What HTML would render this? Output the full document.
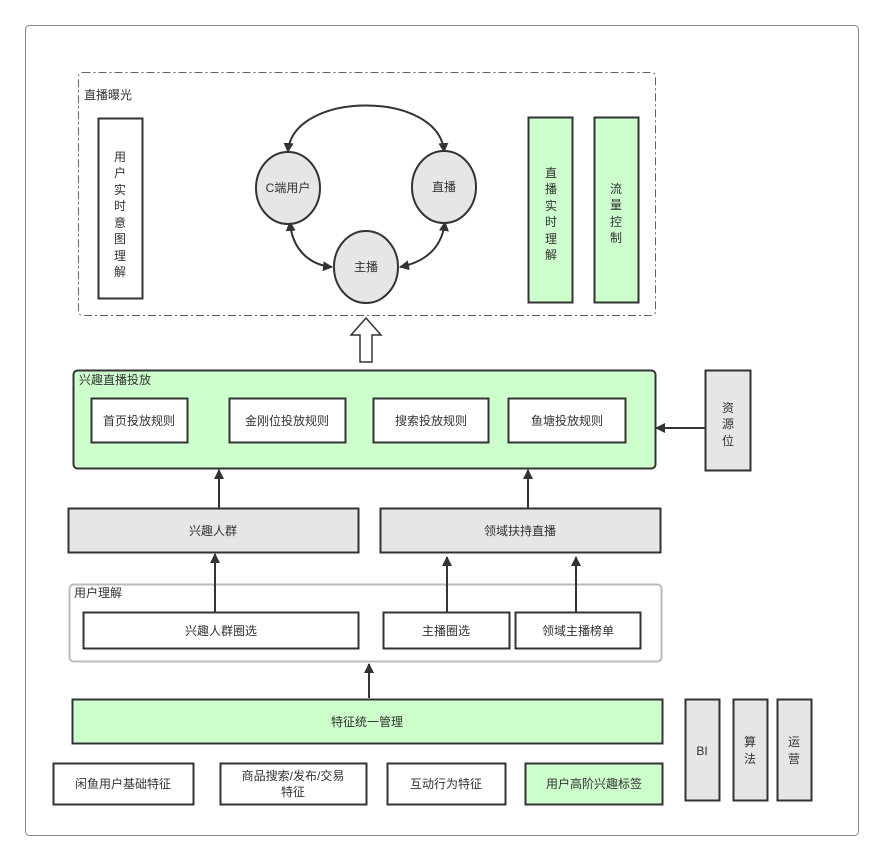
<!DOCTYPE html>
<html><head><meta charset="utf-8"><style>
body{margin:0;background:#fff}
svg text{font-family:"Liberation Sans","Noto Sans CJK SC",sans-serif;font-size:12px;fill:#333}
</style></head><body>
<svg width="883" height="862" viewBox="0 0 883 862" xmlns="http://www.w3.org/2000/svg">
<defs><marker id="a" markerWidth="10" markerHeight="10" refX="9" refY="5" orient="auto-start-reverse" markerUnits="userSpaceOnUse"><path d="M0,0 L10,5 L0,10 z" fill="#333"/></marker></defs>
<rect x="25.5" y="25.5" width="833" height="810" rx="4" fill="#fff" stroke="#888"/>
<rect x="78.5" y="72.5" width="577" height="243" rx="4" fill="none" stroke="#666" stroke-dasharray="8,3,2,3"/>
<text x="84" y="99">直播曝光</text>
<rect x="98.5" y="118.5" width="44" height="180" fill="#fff" stroke="#333" stroke-width="2"/>
<g text-anchor="middle"><text x="120" y="161">用</text><text x="120" y="177">户</text><text x="120" y="194">实</text><text x="120" y="210">时</text><text x="120" y="227">意</text><text x="120" y="243">图</text><text x="120" y="260">理</text><text x="120" y="276">解</text></g>
<rect x="528.5" y="117.5" width="44" height="185" fill="#ccffcc" stroke="#333" stroke-width="2"/>
<g text-anchor="middle"><text x="551" y="177">直</text><text x="551" y="193">播</text><text x="551" y="210">实</text><text x="551" y="226">时</text><text x="551" y="243">理</text><text x="551" y="259">解</text></g>
<rect x="594.5" y="117.5" width="44" height="185" fill="#ccffcc" stroke="#333" stroke-width="2"/>
<g text-anchor="middle"><text x="616" y="193">流</text><text x="616" y="209">量</text><text x="616" y="226">控</text><text x="616" y="242">制</text></g>
<path d="M288,152 C292,90 440,90 444,152" fill="none" stroke="#333" stroke-width="2" marker-start="url(#a)" marker-end="url(#a)"/>
<path d="M290,222 C292,250 310,265 332,267" fill="none" stroke="#333" stroke-width="2" marker-start="url(#a)" marker-end="url(#a)"/>
<path d="M400,267 C425,262 442,248 445,222" fill="none" stroke="#333" stroke-width="2" marker-start="url(#a)" marker-end="url(#a)"/>
<ellipse cx="288" cy="188" rx="32" ry="36" fill="#e6e6e6" stroke="#333" stroke-width="2"/>
<ellipse cx="444" cy="187" rx="32" ry="36" fill="#e6e6e6" stroke="#333" stroke-width="2"/>
<ellipse cx="366" cy="267" rx="32" ry="36" fill="#e6e6e6" stroke="#333" stroke-width="2"/>
<g text-anchor="middle"><text x="288" y="192">C端用户</text><text x="444" y="191">直播</text><text x="366" y="271">主播</text></g>
<path d="M366,318 L381,335 L372,335 L372,362 L360,362 L360,335 L351,335 Z" fill="#fff" stroke="#333" stroke-width="1.5"/>
<rect x="73.5" y="370.5" width="582" height="98" rx="4" fill="#ccffcc" stroke="#333" stroke-width="2"/>
<text x="79" y="384">兴趣直播投放</text>
<g fill="#fff" stroke="#333" stroke-width="2"><rect x="91.5" y="398.5" width="96" height="44"/><rect x="229.5" y="398.5" width="116" height="44"/><rect x="373.5" y="398.5" width="115" height="44"/><rect x="508.5" y="398.5" width="117" height="44"/></g>
<g text-anchor="middle"><text x="139" y="425">首页投放规则</text><text x="287" y="425">金刚位投放规则</text><text x="431" y="425">搜索投放规则</text><text x="567" y="425">鱼塘投放规则</text></g>
<rect x="705.5" y="370.5" width="45" height="100" fill="#e6e6e6" stroke="#333" stroke-width="2"/>
<g text-anchor="middle"><text x="728" y="412">资</text><text x="728" y="428">源</text><text x="728" y="445">位</text></g>
<rect x="68.5" y="508.5" width="290" height="44" fill="#e6e6e6" stroke="#333" stroke-width="2"/>
<rect x="380.5" y="508.5" width="280" height="44" fill="#e6e6e6" stroke="#333" stroke-width="2"/>
<g text-anchor="middle"><text x="213" y="535">兴趣人群</text><text x="520" y="535">领域扶持直播</text></g>
<rect x="69.5" y="584.5" width="592" height="77" rx="4" fill="#fff" stroke="#bbb" stroke-width="2"/>
<text x="74" y="597">用户理解</text>
<g stroke="#333" stroke-width="2" marker-end="url(#a)"><line x1="705" y1="428" x2="656" y2="428"/><line x1="219" y1="508" x2="219" y2="470"/><line x1="528" y1="508" x2="528" y2="470"/><line x1="215" y1="612" x2="215" y2="554"/><line x1="447" y1="612" x2="447" y2="557"/><line x1="576" y1="612" x2="576" y2="557"/><line x1="369" y1="698" x2="369" y2="664"/></g>
<g fill="#fff" stroke="#333" stroke-width="2"><rect x="83.5" y="612.5" width="275" height="36"/><rect x="383.5" y="612.5" width="126" height="36"/><rect x="515.5" y="612.5" width="125" height="36"/></g>
<g text-anchor="middle"><text x="221" y="635">兴趣人群圈选</text><text x="446" y="635">主播圈选</text><text x="578" y="635">领域主播榜单</text></g>
<rect x="72.5" y="699.5" width="590" height="44" fill="#ccffcc" stroke="#333" stroke-width="2"/>
<text x="367" y="726" text-anchor="middle">特征统一管理</text>
<g stroke="#333" stroke-width="2"><rect x="53.5" y="763.5" width="140" height="41" fill="#fff"/><rect x="220.5" y="763.5" width="146" height="41" fill="#fff"/><rect x="387.5" y="763.5" width="118" height="41" fill="#fff"/><rect x="525.5" y="763.5" width="137" height="41" fill="#ccffcc"/></g>
<g text-anchor="middle"><text x="123" y="788">闲鱼用户基础特征</text><text x="293" y="780">商品搜索/发布/交易</text><text x="293" y="796">特征</text><text x="446" y="788">互动行为特征</text><text x="594" y="788">用户高阶兴趣标签</text></g>
<g fill="#e6e6e6" stroke="#333" stroke-width="2"><rect x="685.5" y="699.5" width="34" height="101"/><rect x="733.5" y="699.5" width="34" height="101"/><rect x="777.5" y="699.5" width="34" height="101"/></g>
<g text-anchor="middle"><text x="702" y="755">BI</text><text x="750" y="746">算</text><text x="750" y="763">法</text><text x="794" y="746">运</text><text x="794" y="763">营</text></g>
</svg>
</body></html>
